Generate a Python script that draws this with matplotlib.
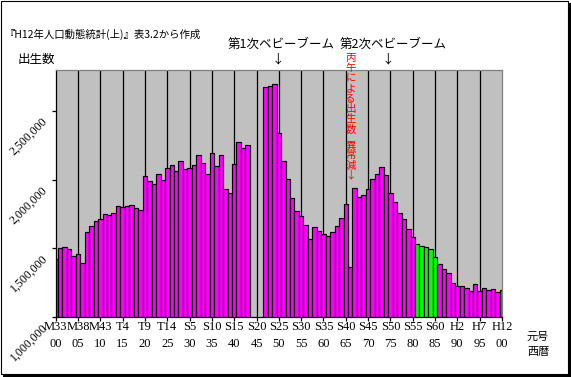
import matplotlib
matplotlib.use('Agg')
import matplotlib.pyplot as plt
import matplotlib.transforms as mtransforms
from matplotlib.patches import Rectangle

# ---- data ----
years = [1900, 1901, 1902, 1903, 1904, 1905, 1906, 1907, 1908, 1909,
         1910, 1911, 1912, 1913, 1914, 1915, 1916, 1917, 1918, 1919,
         1920, 1921, 1922, 1923, 1924, 1925, 1926, 1927, 1928, 1929,
         1930, 1931, 1932, 1933, 1934, 1935, 1936, 1937, 1938, 1939,
         1940, 1941, 1942, 1943,
         1947, 1948, 1949,
         1950, 1951, 1952, 1953, 1954, 1955, 1956, 1957, 1958, 1959,
         1960, 1961, 1962, 1963, 1964, 1965, 1966, 1967, 1968, 1969,
         1970, 1971, 1972, 1973, 1974, 1975, 1976, 1977, 1978, 1979,
         1980, 1981, 1982, 1983, 1984, 1985, 1986, 1987, 1988, 1989,
         1990, 1991, 1992, 1993, 1994, 1995, 1996, 1997, 1998, 1999,
         2000]
births = [1420534, 1501591, 1510835, 1489816, 1440371, 1452770, 1394295, 1614472, 1662815, 1693850,
          1712857, 1747803, 1737674, 1757441, 1808402, 1799326, 1804822, 1812413, 1791992, 1778685,
          2025564, 1990876, 1969314, 2043297, 1998520, 2086091, 2104405, 2060737, 2135852, 2077026,
          2085101, 2102784, 2182742, 2121253, 2043783, 2190704, 2101969, 2180734, 1928321, 1901573,
          2115867, 2277283, 2233660, 2253535,
          2678792, 2681624, 2696638,
          2337507, 2137689, 2005162, 1868040, 1769580, 1730692, 1665278, 1566713, 1653469, 1626088,
          1606041, 1589372, 1618616, 1659521, 1716761, 1823697, 1360974, 1935647, 1871839, 1889815,
          1934239, 2000973, 2038682, 2091983, 2029989, 1901440, 1832617, 1755100, 1708643, 1642580,
          1576889, 1529455, 1515392, 1508687, 1489780, 1431577, 1382946, 1346658, 1314006, 1246802,
          1221585, 1223245, 1208989, 1188282, 1238328, 1187064, 1206555, 1191665, 1203147, 1177669,
          1190547]
green_years = [1981, 1982, 1983, 1984, 1985]
tick_years = list(range(1900, 2001, 5))
era_labels = ['M33', 'M38', 'M43', 'T4', 'T9', 'T14', 'S5', 'S10', 'S15', 'S20', 'S25',
              'S30', 'S35', 'S40', 'S45', 'S50', 'S55', 'S60', 'H2', 'H7', 'H12']
west_labels = ['00', '05', '10', '15', '20', '25', '30', '35', '40', '45', '50',
               '55', '60', '65', '70', '75', '80', '85', '90', '95', '00']
ytick_vals = [1000000, 1500000, 2000000, 2500000]
ytick_labels = ['1,000,000', '1,500,000', '2,000,000', '2,500,000']

title_text = '『H12年人口動態統計(上)』表3.2から作成'
ylabel_text = '出生数'
boom1_text = '第1次ベビーブーム'
boom2_text = '第2次ベビーブーム'
hinoe_text = '丙午による出生数　異常減↓'

JP = ['Noto Sans CJK JP', 'DejaVu Sans']
SERIF = ['Liberation Serif', 'DejaVu Serif']

W, H = 571, 377
fig = plt.figure(figsize=(W / 100, H / 100), dpi=100)
fig.patch.set_facecolor('white')

def fx(px):
    return px / W

def fy(py):
    return 1 - py / H

L, R, T, B = 55.7, 502.0, 70.0, 316.5
ax = fig.add_axes([fx(L), fy(B), (R - L) / W, (B - T) / H])
ax.set_facecolor('#C0C0C0')

colors = ['#00FF00' if y in green_years else '#FF00FF' for y in years]
ax.bar(years, births, width=1.0, color=colors, edgecolor='black',
       linewidth=0.85, zorder=2)
ax.set_xlim(1900, 2000)
ax.set_ylim(1000000, 2800000)

for x in tick_years[1:-1]:
    ax.axvline(x, color='black', lw=0.9, zorder=1)

for s in ['left', 'bottom']:
    ax.spines[s].set_color('black')
    ax.spines[s].set_linewidth(0.9)
for s in ['top', 'right']:
    ax.spines[s].set_color('#808080')
    ax.spines[s].set_linewidth(0.9)

ax.set_xticks(tick_years)
ax.set_xticklabels([])
ax.set_yticks(ytick_vals)
ax.set_yticklabels([])
ax.tick_params(axis='both', direction='out', length=3, width=0.9, color='black')

# x labels
bt = mtransforms.blended_transform_factory(ax.transData, fig.transFigure)
for x, e, w in zip(tick_years, era_labels, west_labels):
    ax.text(x, fy(327), e, transform=bt, ha='center', va='center',
            fontsize=9, family=SERIF, clip_on=False)
    ax.text(x, fy(344), w, transform=bt, ha='center', va='center',
            fontsize=9, family=SERIF, clip_on=False)
fig.text(fx(538), fy(337), '元号', ha='center', va='center', fontsize=8, family=JP)
fig.text(fx(538), fy(352), '西暦', ha='center', va='center', fontsize=8, family=JP)

# y labels rotated
yt = ax.get_yaxis_transform() + mtransforms.ScaledTranslation(-0.10, -0.09, fig.dpi_scale_trans)
for v, lab in zip(ytick_vals, ytick_labels):
    ax.text(0, v, lab, transform=yt, rotation=45, rotation_mode='anchor',
            ha='right', va='center', fontsize=8.5, family=SERIF, clip_on=False)

# header texts
fig.text(fx(5), fy(34), title_text, ha='left', va='center', fontsize=7.5, family=JP)
fig.text(fx(18), fy(59), ylabel_text, ha='left', va='center', fontsize=9, family=JP)
fig.text(fx(228), fy(44), boom1_text, ha='left', va='center', fontsize=9, family=JP)
fig.text(fx(278), fy(59), '↓', ha='center', va='center', fontsize=9, family=JP)
fig.text(fx(340), fy(44), boom2_text, ha='left', va='center', fontsize=9, family=JP)
fig.text(fx(388), fy(59), '↓', ha='center', va='center', fontsize=9, family=JP)

# vertical red text
ypos = 58.0
for ch in hinoe_text:
    if ch == '　':
        ypos += 5.5
        continue
    fig.text(fx(350.5), fy(ypos), ch, ha='center', va='center', fontsize=7.5,
             family=JP, color='#FF0000')
    ypos += 10.2

# outer frame with shadow
fig.add_artist(Rectangle((fx(0.5), fy(373.5)), (567) / W, 373 / H, transform=fig.transFigure,
                         fill=False, edgecolor='black', linewidth=0.8))
fig.add_artist(Rectangle((fx(568), fy(377)), 3 / W, 374 / H, transform=fig.transFigure,
                         facecolor='black', edgecolor='none'))
fig.add_artist(Rectangle((fx(3), fy(377)), 568 / W, 3 / H, transform=fig.transFigure,
                         facecolor='black', edgecolor='none'))

fig.savefig('out.png', dpi=100)
